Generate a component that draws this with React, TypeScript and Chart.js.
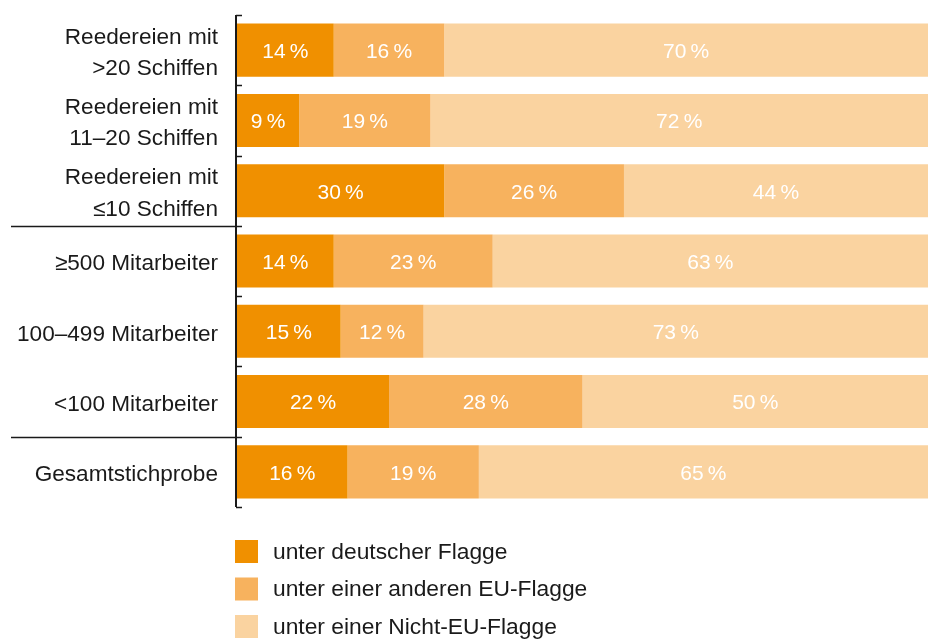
import React, { useEffect, useRef } from "react";
import { Chart, registerables } from "chart.js";

Chart.register(...registerables);

const categories: string[][] = [
  ["Reedereien mit", ">20 Schiffen"],
  ["Reedereien mit", "11–20 Schiffen"],
  ["Reedereien mit", "≤10 Schiffen"],
  ["≥500 Mitarbeiter"],
  ["100–499 Mitarbeiter"],
  ["<100 Mitarbeiter"],
  ["Gesamtstichprobe"],
];

const seriesNames = [
  "unter deutscher Flagge",
  "unter einer anderen EU-Flagge",
  "unter einer Nicht-EU-Flagge",
];

const germanFlag = [14, 9, 30, 14, 15, 22, 16];
const otherEuFlag = [16, 19, 26, 23, 12, 28, 19];
const nonEuFlag = [70, 72, 44, 63, 73, 50, 65];

const xTicks = [0, 100];
const separatorsAfter = [2, 5];

const colors = ["#F09000", "#F7B25E", "#FAD3A0"];
const FONT = "'Liberation Sans', Arial, Helvetica, sans-serif";

const decorPlugin = {
  id: "decor",
  afterDatasetsDraw(chart: any) {
    const ctx = chart.ctx;
    const y = chart.scales.y;
    const area = chart.chartArea;
    const n = categories.length;
    // data labels
    ctx.save();
    ctx.font = `21px ${FONT}`;
    ctx.fillStyle = "#ffffff";
    ctx.textAlign = "center";
    ctx.textBaseline = "middle";
    chart.data.datasets.forEach((ds: any, di: number) => {
      const meta = chart.getDatasetMeta(di);
      meta.data.forEach((bar: any, i: number) => {
        const cx = (bar.x + bar.base) / 2;
        ctx.fillText(`${ds.data[i]}\u2009%`, cx, bar.y + 2);
      });
    });
    ctx.restore();

    // axis line, ticks and separators
    const x0 = area.left - 1;
    const half = (y.getPixelForValue(1) - y.getPixelForValue(0)) / 2;
    ctx.save();
    ctx.strokeStyle = "#1a1a1a";
    ctx.lineWidth = 2;
    ctx.beginPath();
    ctx.moveTo(x0, y.getPixelForValue(0) - half);
    ctx.lineTo(x0, y.getPixelForValue(n - 1) + half);
    ctx.stroke();
    ctx.lineWidth = 1.5;
    for (let i = 0; i <= n; i++) {
      const py = Math.round(y.getPixelForValue(i) - half) + 0.5;
      const isSep = separatorsAfter.includes(i - 1);
      ctx.beginPath();
      ctx.moveTo(isSep ? 11 : x0, py);
      ctx.lineTo(x0 + 6, py);
      ctx.stroke();
    }
    ctx.restore();

    // legend
    ctx.save();
    ctx.font = `22.8px ${FONT}`;
    ctx.textBaseline = "middle";
    ctx.textAlign = "left";
    seriesNames.forEach((name, i) => {
      const top = 540 + i * 37.5;
      ctx.fillStyle = colors[i];
      ctx.fillRect(235, top, 23, 23);
      ctx.fillStyle = "#1a1a1a";
      ctx.fillText(name, 273, top + 12.5);
    });
    ctx.restore();
  },
};

export default function App() {
  const ref = useRef<HTMLCanvasElement>(null);
  useEffect(() => {
    document.body.style.margin = "0";
    const canvas = ref.current!;
    const chart = new Chart(canvas, {
      type: "bar",
      data: {
        labels: categories,
        datasets: [germanFlag, otherEuFlag, nonEuFlag].map((d, i) => ({
          label: seriesNames[i],
          data: d,
          backgroundColor: colors[i],
          borderWidth: 0,
          categoryPercentage: 0.755,
          barPercentage: 1,
        })),
      },
      options: {
        indexAxis: "y",
        animation: false,
        responsive: false,
        maintainAspectRatio: false,
        layout: { padding: { top: 15, bottom: 132, right: 0, left: 0 } },
        plugins: {
          legend: { display: false },
          tooltip: { enabled: false },
        },
        scales: {
          x: {
            stacked: true,
            min: xTicks[0],
            max: xTicks[1],
            display: false,
          },
          y: {
            stacked: true,
            grid: { display: false },
            border: { display: false },
            afterFit: (scale: any) => {
              scale.width = 237;
              scale.paddingTop = 0;
              scale.paddingBottom = 0;
            },
            ticks: {
              color: "#1a1a1a",
              padding: 11,
              labelOffset: 3,
              font: { family: FONT, size: 22.6, lineHeight: 1.38 },
            },
          },
        },
      },
      plugins: [decorPlugin],
    });
    return () => chart.destroy();
  }, []);
  return (
    <div style={{ width: 928, height: 639 }}>
      <canvas ref={ref} width={928} height={639} style={{ display: "block" }} />
    </div>
  );
}
